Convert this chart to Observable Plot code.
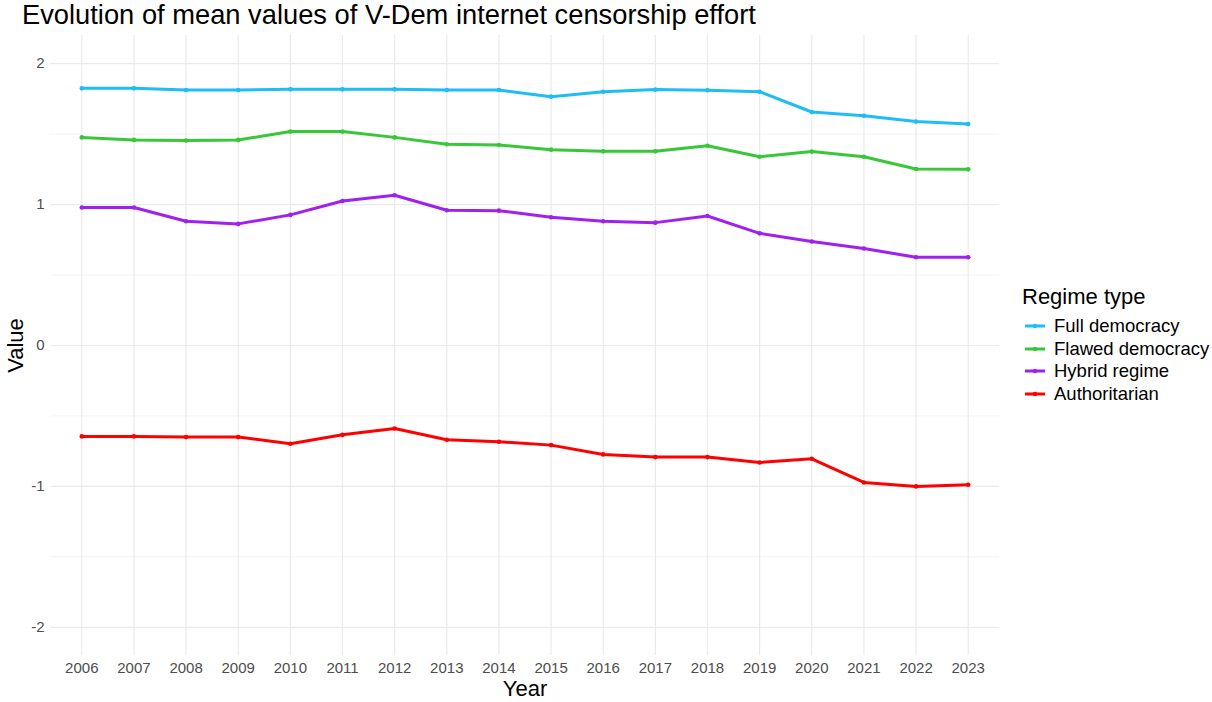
<!DOCTYPE html>
<html>
<head>
<meta charset="utf-8">
<script src="https://cdn.jsdelivr.net/npm/d3@7"></script>
<script src="https://cdn.jsdelivr.net/npm/@observablehq/plot@0.6"></script>
<style>
  html, body { margin: 0; padding: 0; background: #fff; }
  body { width: 1212px; height: 702px; position: relative; overflow: hidden; font-family: "Liberation Sans", Arial, sans-serif; }
  #title { position: absolute; left: 22px; top: -1px; font-size: 27.3px; line-height: 32px; color: #000; white-space: nowrap; }
  #chart { position: absolute; left: 0; top: 30px; }
  #legend { position: absolute; left: 1022px; top: 284px; color: #000; }
  #legend .ltitle { font-size: 22px; line-height: 26px; margin-bottom: 5px; white-space: nowrap; }
  #legend .row { display: flex; align-items: center; height: 22.5px; font-size: 18.5px; white-space: nowrap; }
  #legend svg { margin-right: 8px; margin-left: 2px; }
</style>
</head>
<body>
<div id="title">Evolution of mean values of V-Dem internet censorship effort</div>
<div id="chart"></div>
<div id="legend"></div>
<script>
const years = [2006, 2007, 2008, 2009, 2010, 2011, 2012, 2013, 2014, 2015, 2016, 2017, 2018, 2019, 2020, 2021, 2022, 2023];
const regimes = ["Full democracy", "Flawed democracy", "Hybrid regime", "Authoritarian"];
const colors = ["#1fbdf5", "#37c737", "#a020f0", "#ff0000"];
const fullDemocracy   = [1.825, 1.825, 1.813, 1.813, 1.818, 1.818, 1.818, 1.813, 1.813, 1.766, 1.801, 1.816, 1.811, 1.801, 1.657, 1.631, 1.589, 1.572];
const flawedDemocracy = [1.477, 1.459, 1.454, 1.459, 1.518, 1.518, 1.477, 1.428, 1.423, 1.390, 1.378, 1.378, 1.418, 1.340, 1.376, 1.340, 1.253, 1.250];
const hybridRegime    = [0.979, 0.979, 0.882, 0.863, 0.927, 1.026, 1.066, 0.960, 0.957, 0.910, 0.882, 0.872, 0.919, 0.796, 0.738, 0.688, 0.626, 0.626];
const authoritarian   = [-0.645, -0.645, -0.650, -0.650, -0.697, -0.634, -0.589, -0.669, -0.683, -0.707, -0.773, -0.792, -0.792, -0.830, -0.804, -0.972, -1.000, -0.988];
const yMajor = [-2, -1, 0, 1, 2];
const yMinor = [-1.5, -0.5, 0.5, 1.5];

const series = [fullDemocracy, flawedDemocracy, hybridRegime, authoritarian];
const data = [];
regimes.forEach((r, i) => years.forEach((y, j) => data.push({regime: r, year: y, value: series[i][j]})));

const plot = Plot.plot({
  width: 1212,
  height: 672,
  marginLeft: 50,
  marginRight: 213,
  marginTop: 5,
  marginBottom: 47,
  style: {fontFamily: "Liberation Sans, Arial, sans-serif", background: "transparent"},
  x: {domain: [2005.4, 2023.6]},
  y: {domain: [-2.2, 2.2]},
  color: {domain: regimes, range: colors},
  marks: [
    Plot.gridY(yMinor, {stroke: "#f3f3f3", strokeOpacity: 1, strokeWidth: 1}),
    Plot.gridY(yMajor, {stroke: "#ebebeb", strokeOpacity: 1, strokeWidth: 1.2}),
    Plot.gridX(years, {stroke: "#ebebeb", strokeOpacity: 1, strokeWidth: 1.2}),
    Plot.axisY(yMajor, {tickSize: 0, tickPadding: 6, fontSize: 15, fill: "#4d4d4d", tickFormat: d => String(d), label: null}),
    Plot.axisX(years, {tickSize: 0, tickPadding: 7, fontSize: 15, fill: "#4d4d4d", tickFormat: d => String(d), label: null}),
    Plot.lineY(data, {x: "year", y: "value", stroke: "regime", z: "regime", strokeWidth: 3}),
    Plot.dot(data, {x: "year", y: "value", fill: "regime", r: 2.3}),
    Plot.text(["Value"], {frameAnchor: "left", textAnchor: "middle", dx: -35, rotate: -90, fontSize: 22, fill: "#000"}),
    Plot.text(["Year"], {frameAnchor: "bottom", dy: 40, fontSize: 22, fill: "#000"})
  ]
});
document.getElementById("chart").appendChild(plot);

const legend = document.getElementById("legend");
const t = document.createElement("div");
t.className = "ltitle";
t.textContent = "Regime type";
legend.appendChild(t);
regimes.forEach((r, i) => {
  const row = document.createElement("div");
  row.className = "row";
  row.innerHTML = `<svg width="22" height="10"><line x1="1" x2="21" y1="5" y2="5" stroke="${colors[i]}" stroke-width="3"/><circle cx="11" cy="5" r="2.3" fill="${colors[i]}"/></svg><span>${r}</span>`;
  legend.appendChild(row);
});
</script>
</body>
</html>
